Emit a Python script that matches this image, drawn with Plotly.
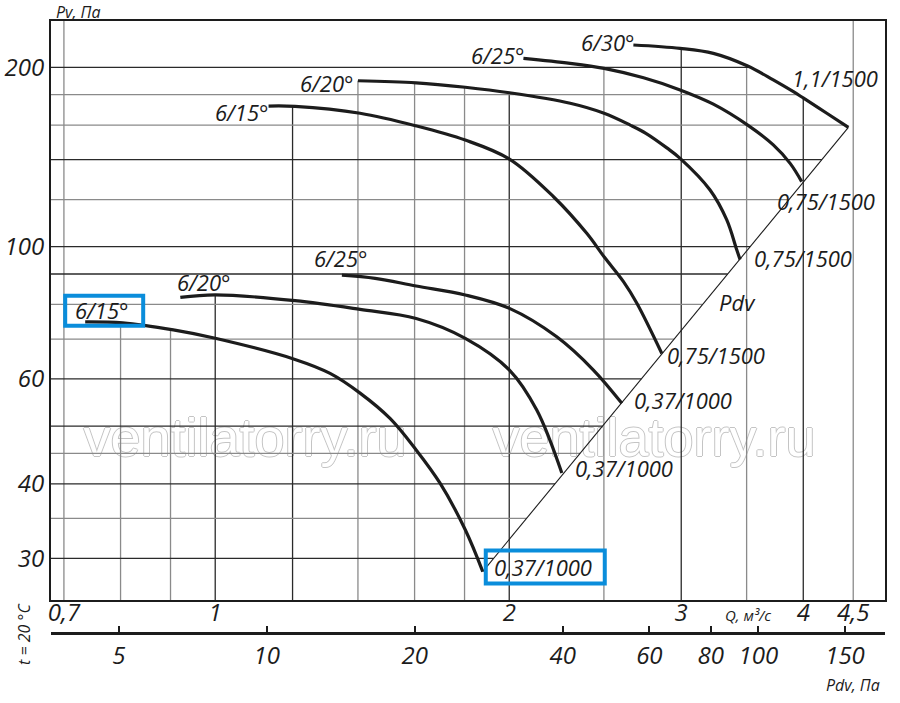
import numpy as np
import plotly.graph_objects as go

# fan curves, Q in m3/s and Pv in Pa
# upper group (1500 rpm)
q_15_hi = [1.134, 1.207, 1.407, 1.606, 1.803, 2.001, 2.220, 2.401, 2.501, 2.618, 2.702, 2.866]
pv_15_hi = [172.2, 172.0, 167.5, 159.5, 151.0, 140.3, 121.3, 105.3, 96.2, 87.4, 80.4, 66.2]
q_20_hi = [1.40, 1.606, 1.803, 2.001, 2.309, 2.501, 2.66, 2.76, 2.90, 2.992, 3.211, 3.340, 3.42, 3.446]
pv_20_hi = [189.9, 188.4, 185.2, 181.3, 174.1, 167.5, 160.0, 155.0, 146.5, 140.7, 124.5, 110.9, 98.7, 95.2]
q_25_hi = [2.068, 2.309, 2.501, 2.745, 2.992, 3.236, 3.509, 3.727, 3.878, 3.985]
pv_25_hi = [207.0, 203.1, 199.2, 192.1, 183.3, 173.5, 160.0, 148.2, 138.0, 128.6]
q_30 = [2.680, 2.992, 3.236, 3.509, 3.727, 3.908, 4.003, 4.228, 4.449]
pv_30 = [218.0, 215.2, 211.1, 201.0, 190.5, 182.0, 177.5, 167.5, 158.6]
# lower group (1000 rpm)
q_15_lo = [0.736, 0.804, 0.906, 1.0, 1.207, 1.311, 1.407, 1.51, 1.606, 1.699, 1.803, 1.879]
pv_15_lo = [74.8, 74.5, 72.5, 70.2, 64.7, 61.3, 56.8, 51.5, 45.6, 40.1, 33.5, 28.5]
q_20_lo = [0.921, 1.0, 1.207, 1.407, 1.606, 1.803, 2.001, 2.134, 2.264]
pv_20_lo = [82.2, 83.0, 81.2, 78.5, 75.8, 70.2, 62.1, 53.2, 41.7]
q_25_lo = [1.348, 1.458, 1.606, 1.803, 2.001, 2.237, 2.439, 2.608]
pv_25_lo = [89.6, 88.5, 85.9, 83.0, 78.8, 70.6, 62.1, 54.6]

angles = ['6/15°', '6/20°', '6/25°', '6/30°', '6/15°', '6/20°', '6/25°']
motors = ['0,75/1500', '0,75/1500', '0,75/1500', '1,1/1500', '0,37/1000', '0,37/1000', '0,37/1000']

# grid and ticks
q_grid = [0.7, 0.8, 0.9, 1, 1.2, 1.4, 1.6, 1.8, 2, 2.5, 3, 3.5, 4, 4.5]
q_grid_dark = [1, 1.2, 2, 3, 4]
pv_grid = [30, 35, 40, 45, 50, 60, 70, 80, 90, 100, 120, 140, 160, 180, 200]
pv_grid_dark = [30, 40, 50, 60, 90, 100, 140, 200]

q_ticks = [0.7, 1, 2, 3, 4, 4.5]
q_tick_text = ['0,7', '1', '2', '3', '4', '4,5']
pv_ticks = [30, 40, 60, 100, 200]
pdv_ticks = [5, 10, 20, 40, 60, 80, 100, 150]

Q_RANGE = [0.679, 4.85]
PV_RANGE = [25.54, 239.2]
PDV_RANGE = [3.64, 180.9]

INK = '#1c1c1c'
BLUE = '#0a8ddb'
FONT = 'Open Sans'

W, H = 900, 703
MARGIN = dict(l=51, r=15, t=21, b=50)
Y_DOMAIN = [0.0839, 1]
plot_w = W - MARGIN['l'] - MARGIN['r']
plot_h = (H - MARGIN['t'] - MARGIN['b']) * (Y_DOMAIN[1] - Y_DOMAIN[0])
px_dec_x = plot_w / np.log10(Q_RANGE[1] / Q_RANGE[0])
px_dec_y = plot_h / np.log10(PV_RANGE[1] / PV_RANGE[0])

curves = [(q_15_hi, pv_15_hi), (q_20_hi, pv_20_hi), (q_25_hi, pv_25_hi), (q_30, pv_30),
          (q_15_lo, pv_15_lo), (q_20_lo, pv_20_lo), (q_25_lo, pv_25_lo)]

# label placement: (xanchor, xshift, yshift) at curve start and at curve end
start_pos = [('right', 2, -6), ('right', -2, -2), ('right', 4, 3), ('right', 4, 3),
             ('left', -12, 12), ('left', -5, 15), ('left', -30, 17)]
end_pos = [('left', 3, -2), ('left', 12, 1), ('left', -27, -19), ('right', 32, 49),
           ('left', 9, 5), ('left', 11, 5), ('left', 10, 3)]


def loginterp(x, xp, fp):
    return 10 ** np.interp(np.log10(x), np.log10(xp), np.log10(fp))


def top_at(q):
    tops = [loginterp(q, c[0], c[1]) for c in curves if c[0][0] * 0.995 <= q <= c[0][-1]]
    return max(tops) if tops else PV_RANGE[1]


# Pdv line runs through the ends of the curves
diag_q = [q_15_lo[-1], q_30[-1]]
diag_pv = [pv_15_lo[-1], pv_30[-1]]


def right_at(pv):
    if pv <= diag_pv[1]:
        return loginterp(pv, diag_pv, diag_q)
    if pv <= max(pv_30):
        return loginterp(pv, pv_30[::-1], q_30[::-1])
    return Q_RANGE[1]


fig = go.Figure()

for q in q_grid:
    col = '#2a2a2a' if q in q_grid_dark else '#8a8a8a'
    fig.add_trace(go.Scatter(x=[q, q], y=[PV_RANGE[0], top_at(q)], mode='lines',
                             line=dict(color=col, width=1.3), hoverinfo='skip'))
for pv in pv_grid:
    col = '#2a2a2a' if pv in pv_grid_dark else '#8a8a8a'
    fig.add_trace(go.Scatter(x=[Q_RANGE[0], right_at(pv)], y=[pv, pv], mode='lines',
                             line=dict(color=col, width=1.3), hoverinfo='skip'))

fig.add_trace(go.Scatter(x=diag_q, y=diag_pv, mode='lines',
                         line=dict(color=INK, width=1.1), hoverinfo='skip'))

for q, pv in curves:
    fig.add_trace(go.Scatter(x=q, y=pv, mode='lines',
                             line=dict(color=INK, width=3.2, shape='spline', smoothing=1.0),
                             hoverinfo='skip'))

# keeps the Pdv axis alive
fig.add_trace(go.Scatter(x=pdv_ticks, y=[pv_ticks[0]] * len(pdv_ticks), xaxis='x2', mode='markers',
                         marker=dict(opacity=0), hoverinfo='skip'))

lab_font = dict(family=FONT, size=22, color=INK, style='italic')
for i, (q, pv) in enumerate(curves):
    xa, dx, dy = start_pos[i]
    fig.add_annotation(x=np.log10(q[0]), y=np.log10(pv[0]), text=angles[i], showarrow=False,
                       xanchor=xa, yanchor='middle', xshift=dx, yshift=dy, font=lab_font)
    xa, dx, dy = end_pos[i]
    fig.add_annotation(x=np.log10(q[-1]), y=np.log10(pv[-1]), text=motors[i], showarrow=False,
                       xanchor=xa, yanchor='middle', xshift=dx, yshift=dy, font=lab_font)


def frame(q, pv, left, right, down, up):
    # rectangle given as pixel offsets round a point on the curves
    fig.add_shape(type='rect', xref='x', yref='y',
                  x0=q * 10 ** (left / px_dec_x), x1=q * 10 ** (right / px_dec_x),
                  y0=pv * 10 ** (down / px_dec_y), y1=pv * 10 ** (up / px_dec_y),
                  line=dict(color=BLUE, width=4))


frame(q_15_lo[0], pv_15_lo[0], -20, 58, -4, 26)
frame(q_15_lo[-1], pv_15_lo[-1], 3, 122, -12, 21)


def note(x, y, text, font, angle=0):
    fig.add_annotation(xref='paper', yref='paper', x=x, y=y, text=text, showarrow=False,
                       xanchor='center', yanchor='middle', textangle=angle, font=font)


note(0.8237, 0.5554, 'Pdv', lab_font)
small = dict(family=FONT, size=16, color=INK, style='italic')
note(0.0324, 1.0142, 'Pv, Па', small)
note(0.8357, 0.0601, 'Q, м³/с', dict(family=FONT, size=15, color=INK, style='italic'))
note(0.9616, -0.0506, 'Pdv, Па', small)
note(-0.0324, 0.0301, 't = 20 °C', small, angle=-90)

# watermark, under the grid and the curves
wm = dict(family='Liberation Sans', size=54, color='white',
          shadow='1px 0 0 #c4c4c4, -1px 0 0 #c4c4c4, 0 1px 0 #c4c4c4, 0 -1px 0 #c4c4c4')
for xp in [0.2326, 0.7230]:
    fig.add_shape(type='rect', xref='paper', yref='paper', x0=xp - 0.2, x1=xp + 0.2,
                  y0=0.3, y1=0.4, layer='below', line=dict(width=0),
                  label=dict(text='ventilatorry.ru', font=wm, textposition='middle center'))

tick_font = dict(family=FONT, size=24, color=INK, style='italic')
fig.update_layout(
    template='none',
    width=W, height=H,
    margin=dict(MARGIN, autoexpand=False),
    paper_bgcolor='white', plot_bgcolor='white',
    showlegend=False,
    xaxis=dict(type='log', range=[np.log10(Q_RANGE[0]), np.log10(Q_RANGE[1])], automargin=False,
               showgrid=False, zeroline=False, showline=True, linecolor=INK, linewidth=2,
               mirror=True, ticks='', tickvals=q_ticks, ticktext=q_tick_text, tickfont=tick_font,
               ticklabelstandoff=-10),
    yaxis=dict(type='log', domain=Y_DOMAIN, range=[np.log10(PV_RANGE[0]), np.log10(PV_RANGE[1])],
               automargin=False,
               showgrid=False, zeroline=False, showline=True, linecolor=INK, linewidth=2,
               mirror=True, ticks='', tickvals=pv_ticks, ticktext=[str(v) for v in pv_ticks],
               tickfont=tick_font),
    xaxis2=dict(type='log', overlaying='x', anchor='free', position=0.0317, side='bottom',
                range=[np.log10(PDV_RANGE[0]), np.log10(PDV_RANGE[1])], automargin=False,
                showgrid=False, zeroline=False, showline=True, linecolor=INK, linewidth=2.5,
                ticks='inside', ticklen=6, tickwidth=1.5, tickcolor=INK,
                tickvals=pdv_ticks, ticktext=[str(v) for v in pdv_ticks], tickfont=tick_font),
)

# drop the page's default body margin so the figure fills the window
fig.write_html("out.html", config={'displayModeBar': False},
               post_script="document.body.style.margin='0';document.body.style.overflow='hidden';")
